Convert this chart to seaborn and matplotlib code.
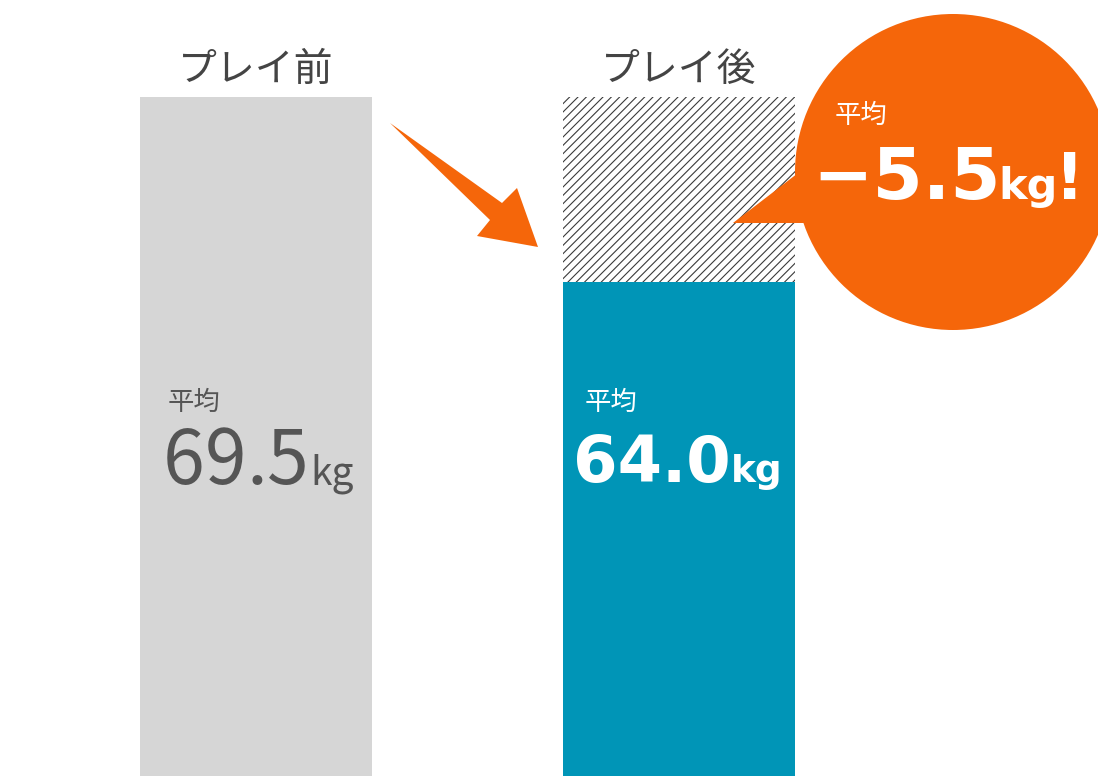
import matplotlib

matplotlib.use("Agg")
import matplotlib.pyplot as plt
import pandas as pd
import seaborn as sns
from matplotlib.patches import Circle, Polygon

stages = ["プレイ前", "プレイ後"]
weights = [69.5, 64.0]
avg_label = "平均"
unit = "kg"

GRAY = "#d6d6d6"
TEAL = "#0095b7"
ORANGE = "#f5660a"
TEXT_GRAY = "#555555"
JP = ["Noto Sans CJK JP", "DejaVu Sans"]
WIDE = ["DejaVu Sans"]

sns.set_theme(style="white")
plt.rcParams["font.family"] = JP
plt.rcParams["hatch.linewidth"] = 0.8

frame = pd.DataFrame({"stage": stages, "weight": weights})
diff = weights[1] - weights[0]

fig = plt.figure(figsize=(10.98, 7.76), dpi=100)
ax = fig.add_axes([0, 0, 1, 1])
bar_width = 0.5485
sns.barplot(
    data=frame, x="stage", y="weight", hue="stage", palette=[GRAY, TEAL],
    width=bar_width, saturation=1, legend=False, ax=ax, linewidth=0,
)
# hatched part showing what was lost
ax.bar(1, weights[0] - weights[1], bottom=weights[1], width=bar_width,
       color="white", edgecolor="#3a3a3a", hatch="////", linewidth=0, zorder=2)
ax.set_xlim(-0.605, 1.9905)
ax.set_ylim(49.313, 72.384)
ax.axis("off")

# decoration layer in pixel coordinates
deco = fig.add_axes([0, 0, 1, 1])
deco.set_xlim(0, 1098)
deco.set_ylim(776, 0)
deco.axis("off")
deco.patch.set_alpha(0)
renderer = fig.canvas.get_renderer()


def put(x, y, s, **kw):
    """Draw s left/baseline aligned; return x right after it."""
    t = deco.text(x, y, s, ha="left", va="baseline", **kw)
    return x + t.get_window_extent(renderer).width


def put_spaced(x, y, s, **kw):
    """Same as put, but one character at a time (looser spacing)."""
    for ch in s:
        x = put(x, y, ch, **kw)
    return x


for cx, name in zip([256, 679], stages):
    deco.text(cx, 70, name, ha="center", va="center", fontsize=28, color="#444444")

# left bar labels
deco.text(168, 402, avg_label, ha="left", va="center", fontsize=19, color=TEXT_GRAY)
end = put_spaced(163, 484, f"{weights[0]:.1f}", fontsize=54, color=TEXT_GRAY)
put(end + 2, 484, unit, fontsize=28, color=TEXT_GRAY)

# right bar labels
deco.text(585, 402, avg_label, ha="left", va="center", fontsize=19, color="white")
end = put(573, 482, f"{weights[1]:.1f}", fontsize=46, color="white",
          fontweight="bold", family=WIDE)
put(end, 482, unit, fontsize=27, color="white", fontweight="bold", family=WIDE)

# arrow
arrow = Polygon([(390, 123), (502, 203), (517, 188), (538, 247), (477, 236),
                 (490, 220)], closed=True, facecolor=ORANGE, edgecolor="none")
deco.add_patch(arrow)

# speech bubble
deco.add_patch(Circle((953, 172), 158, facecolor=ORANGE, edgecolor="none"))
deco.add_patch(Polygon([(733, 223), (815, 160), (815, 223)], closed=True,
                       facecolor=ORANGE, edgecolor="none"))
deco.text(835, 115, avg_label, ha="left", va="center", fontsize=19, color="white")
end = put(812, 199, f"{diff:.1f}".replace("-", "\u2212"), fontsize=52,
          color="white", fontweight="bold", family=WIDE)
end = put(end - 2, 199, unit, fontsize=31, color="white", fontweight="bold",
          family=WIDE)
put(end - 3, 199, "!", fontsize=46, color="white", fontweight="bold", family=WIDE)

fig.savefig("out.png", dpi=100)
